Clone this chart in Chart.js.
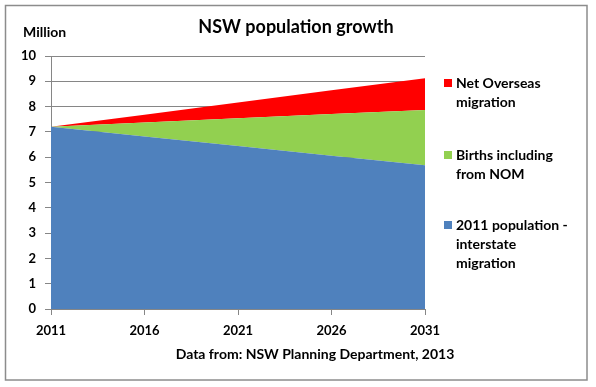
<!DOCTYPE html>
<html>
<head>
<meta charset="utf-8">
<script src="https://cdn.jsdelivr.net/npm/chart.js@4/dist/chart.umd.min.js"></script>
<style>
  html, body { margin: 0; padding: 0; background: #fff; }
  canvas { display: block; }
</style>
</head>
<body>
<canvas id="c" width="596" height="387"></canvas>
<script>
const years = ["2011", "2016", "2021", "2026", "2031"];
const pop2011LessInterstate = [7.2, 6.82, 6.44, 6.06, 5.68];
const birthsInclNOM = [0, 0.55, 1.1, 1.65, 2.19];
const netOverseas = [0, 0.31, 0.62, 0.94, 1.25];
const yTicks = [0, 1, 2, 3, 4, 5, 6, 7, 8, 9, 10];

const FONT = "Lato, 'Open Sans', sans-serif";
const GRID = "#868686";
const COLORS = { blue: "#4F81BD", green: "#92D050", red: "#FF0000" };

const legendItems = [
  { color: COLORS.red, lines: ["Net Overseas", "migration"], baseline: 88 },
  { color: COLORS.green, lines: ["Births including", "from NOM"], baseline: 160 },
  { color: COLORS.blue, lines: ["2011 population -", "interstate", "migration"], baseline: 230 }
];

const decor = {
  id: "decor",
  beforeDraw(chart) {
    const ctx = chart.ctx;
    ctx.save();
    ctx.fillStyle = "#fff";
    ctx.fillRect(0, 0, chart.width, chart.height);
    ctx.strokeStyle = "#8c8c8c";
    ctx.lineWidth = 1.5;
    ctx.strokeRect(5.5, 5.5, 581.5, 374.5);
    ctx.restore();
  },
  afterDraw(chart) {
    const ctx = chart.ctx;
    ctx.save();
    ctx.fillStyle = "#000";
    ctx.textBaseline = "alphabetic";
    ctx.textAlign = "center";
    ctx.font = "bold 18px " + FONT;
    ctx.fillText("NSW population growth", 296, 33);
    ctx.textAlign = "left";
    ctx.font = "bold 14px " + FONT;
    ctx.fillText("Million", 23, 37);
    ctx.textAlign = "center";
    ctx.fillText("Data from: NSW Planning Department, 2013", 315, 359);
    ctx.textAlign = "left";
    legendItems.forEach(item => {
      ctx.fillStyle = item.color;
      ctx.fillRect(444, item.baseline - 9, 8, 8);
      ctx.fillStyle = "#000";
      item.lines.forEach((t, i) => ctx.fillText(t, 456, item.baseline + i * 19));
    });
    ctx.restore();
  }
};

new Chart(document.getElementById("c"), {
  type: "line",
  data: {
    labels: years,
    datasets: [
      { label: "2011 population - interstate migration", data: pop2011LessInterstate, backgroundColor: COLORS.blue, fill: "origin" },
      { label: "Births including from NOM", data: birthsInclNOM, backgroundColor: COLORS.green, fill: "-1" },
      { label: "Net Overseas migration", data: netOverseas, backgroundColor: COLORS.red, fill: "-1" }
    ]
  },
  options: {
    responsive: false,
    animation: false,
    devicePixelRatio: 1,
    layout: { padding: { left: 0, right: 171, top: 56, bottom: 0 } },
    elements: { line: { borderWidth: 0, tension: 0 }, point: { radius: 0 } },
    plugins: { legend: { display: false }, title: { display: false }, tooltip: { enabled: false } },
    scales: {
      x: {
        offset: false,
        grid: { drawOnChartArea: false, drawTicks: true, tickLength: 6, color: GRID },
        border: { display: true, color: GRID, width: 1 },
        ticks: { color: "#000", font: { family: FONT, size: 13, weight: "bold" }, padding: 8, maxRotation: 0 },
        afterFit(s) { s.height = 78; }
      },
      y: {
        stacked: true,
        min: 0,
        max: 10,
        afterBuildTicks(s) { s.ticks = yTicks.map(v => ({ value: v })); },
        grid: { color: GRID, tickLength: 6, drawTicks: true },
        border: { display: true, color: GRID, width: 1 },
        ticks: { color: "#000", font: { family: FONT, size: 13, weight: "bold" }, padding: 9 },
        afterFit(s) { s.width = 51; }
      }
    }
  },
  plugins: [decor]
});
</script>
</body>
</html>
